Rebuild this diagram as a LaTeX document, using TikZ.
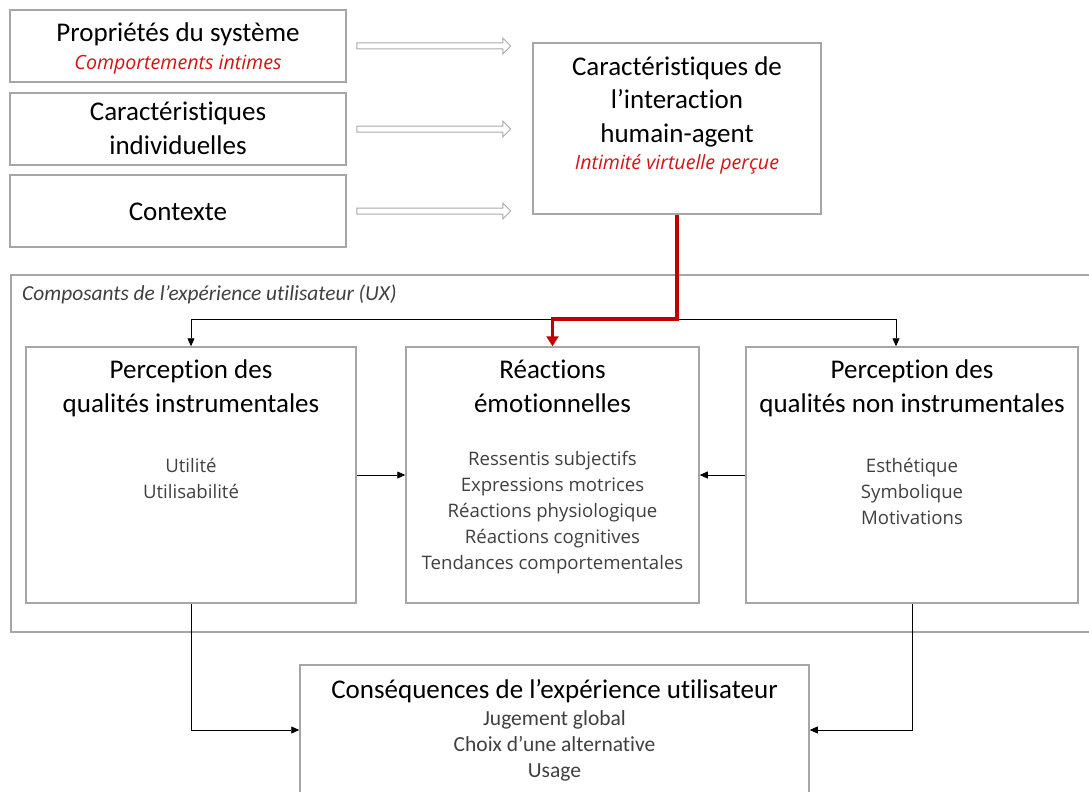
\documentclass[tikz,border=0pt]{standalone}
\usepackage{fontspec}
\setmainfont{Carlito}[RawFeature=-liga]
\newfontfamily\osans{Open Sans}
\usetikzlibrary{arrows.meta,calc}
\definecolor{boxgray}{RGB}{166,166,166}
\definecolor{arrgray}{RGB}{170,170,170}
\definecolor{redtxt}{RGB}{210,20,20}
\definecolor{redline}{RGB}{192,0,0}
\definecolor{itemgray}{RGB}{64,64,64}
\begin{document}
\begin{tikzpicture}[x=1pt,y=-1pt,
  box/.style={draw=boxgray,line width=1.5pt,fill=white,inner sep=0pt},
  ttl/.style={font=\fontsize{27}{27}\selectfont,text=black,inner sep=0pt,anchor=base},
  itm/.style={font=\osans\fontsize{18.6}{18.6}\selectfont,text=itemgray,inner sep=0pt,anchor=base},
  citm/.style={font=\fontsize{21.5}{21.5}\selectfont,text=itemgray,inner sep=0pt,anchor=base},
  red/.style={font=\osans\itshape\fontsize{19.6}{19.6}\selectfont,text=redtxt,inner sep=0pt,anchor=base},
  uxl/.style={font=\itshape\fontsize{21.4}{21.4}\selectfont,text=itemgray,inner sep=0pt,anchor=base west},
  hollow/.style={draw=arrgray,line width=1pt,fill=white},
  blk/.style={draw=black,line width=0.8pt,-{Triangle[length=8pt,width=7pt]}},
  redarr/.style={draw=redline,line width=3.5pt,-{Triangle[length=10pt,width=12pt]}}
]
\useasboundingbox (0,0) rectangle (1089,792);
\clip (0,0) rectangle (1089,792);
\fill[white] (0,0) rectangle (1089,792);

% top-left boxes
\node[box,minimum width=336pt,minimum height=72pt] (b1) at (178,46) {};
\node[box,minimum width=336pt,minimum height=72pt] (b2) at (178,129) {};
\node[box,minimum width=336pt,minimum height=72pt] (b3) at (178,211) {};
\node[ttl] (t1a) at (178,42) {Propriétés du système};
\node[red] (t1b) at (178,70) {Comportements intimes};
\node[ttl] (t2a) at (178,120) {Caractéristiques};
\node[ttl] (t2b) at (178,154) {individuelles};
\node[ttl] (t3a) at (178,220) {Contexte};

% interaction box
\node[box,minimum width=288pt,minimum height=171pt] (ci) at (677,128.5) {};
\node[ttl] (c1) at (677,75) {Caractéristiques de};
\node[ttl] (c2) at (677,108) {l’interaction};
\node[ttl] (c3) at (677,142) {humain-agent};
\node[red] (c4) at (677,169) {Intimité virtuelle perçue};

% hollow arrows
\foreach \b in {b1,b2,b3}{
  \draw[hollow] ($(\b.east)+(10,-3)$) -- ++(146,0) -- ++(0,-5) -- ++(8,8) -- ++(-8,8) -- ++(0,-5) -- ++(-146,0) -- cycle;
}

% UX container
\node[box,minimum width=1100pt,minimum height=357pt,anchor=north west] (ux) at (10,274) {};
\node[uxl] (uxlabel) at (22,300) {Composants de l’expérience utilisateur (UX)};

% three component boxes
\node[box,minimum width=330pt,minimum height=256pt] (pqi) at (191,475) {};
\node[box,minimum width=293pt,minimum height=256pt] (re) at (552.5,475) {};
\node[box,minimum width=332pt,minimum height=256pt] (pqni) at (912,475) {};

\node[ttl] (p1) at (191,378) {Perception des};
\node[ttl] (p2) at (191,412) {qualités instrumentales};
\node[itm] (p3) at (191,472) {Utilité};
\node[itm] (p4) at (191,498) {Utilisabilité};

\node[ttl] (r1) at (552.5,378) {Réactions};
\node[ttl] (r2) at (552.5,412) {émotionnelles};
\node[itm] (r3) at (552.5,465) {Ressentis subjectifs};
\node[itm] (r4) at (552.5,491) {Expressions motrices};
\node[itm] (r5) at (552.5,517) {Réactions physiologique};
\node[itm] (r6) at (552.5,543) {Réactions cognitives};
\node[itm] (r7) at (552.5,569) {Tendances comportementales};

\node[ttl] (n1) at (912,378) {Perception des};
\node[ttl] (n2) at (912,412) {qualités non instrumentales};
\node[itm] (n3) at (912,472) {Esthétique};
\node[itm] (n4) at (912,498) {Symbolique};
\node[itm] (n5) at (912,524) {Motivations};

% consequences box
\node[box,minimum width=509pt,minimum height=130pt] (cons) at (554.5,730) {};
\node[ttl] (k1) at (554.5,698) {Conséquences de l’expérience utilisateur};
\node[citm] (k2) at (554.5,725) {Jugement global};
\node[citm] (k3) at (554.5,751) {Choix d’une alternative};
\node[citm] (k4) at (554.5,777) {Usage};

% connectors
\coordinate (split) at (0,319);
\coordinate (pqnitop) at ($(pqni.north)+(-16,0)$);
\draw[blk,{Triangle[length=8pt,width=7pt]}-{Triangle[length=8pt,width=7pt]}] (pqi.north) |- (pqnitop |- split) -- (pqnitop);
\draw[redarr] (ci.south) |- (re.north |- split) -- (re.north);
\draw[blk] (pqi.east) -- (re.west);
\draw[blk] (pqni.west) -- (re.east);
\draw[blk] (pqi.south) |- (cons.west);
\draw[blk] (pqni.south) |- (cons.east);
\end{tikzpicture}
\end{document}
